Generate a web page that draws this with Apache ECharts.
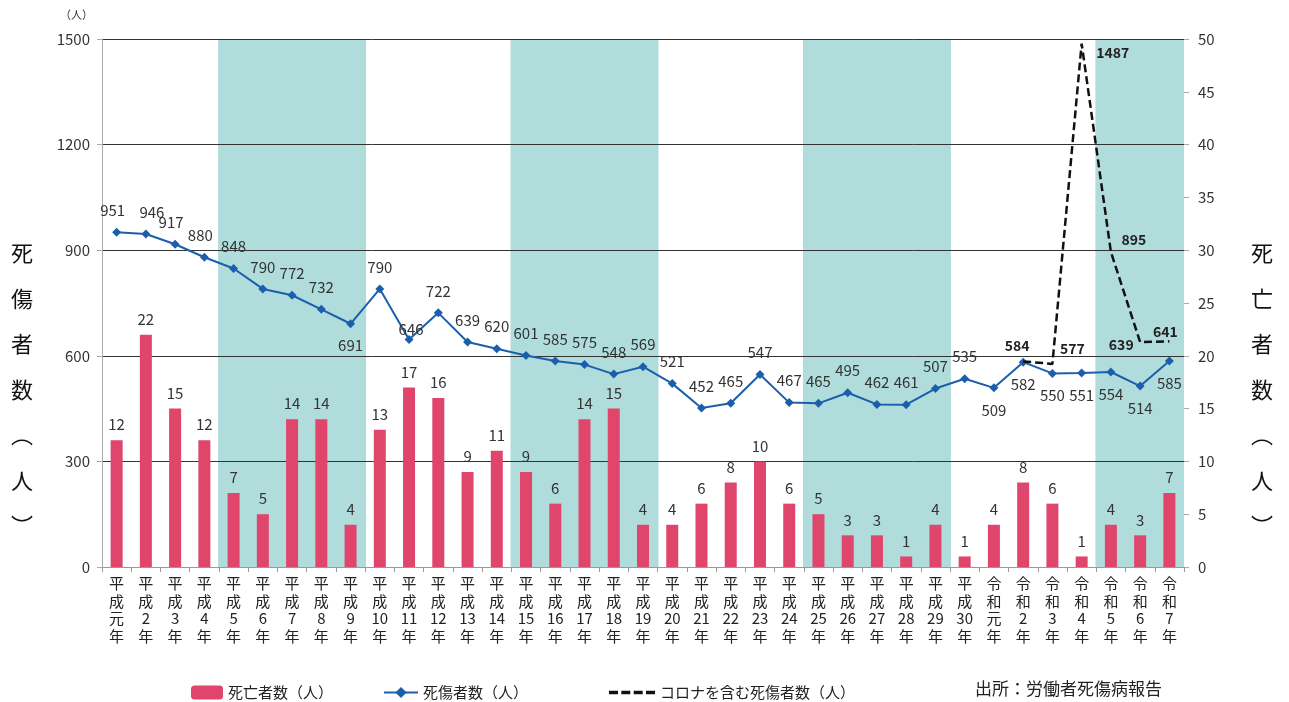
<!DOCTYPE html>
<html>
<head>
<meta charset="utf-8">
<title>死傷者数・死亡者数の推移</title>
<script src="https://cdn.jsdelivr.net/npm/echarts@6/dist/echarts.min.js"></script>
<style>
  html, body { margin: 0; padding: 0; background: #fff; }
  #chart1 { width: 1289px; height: 702px; }
</style>
</head>
<body>
<div id="chart1"></div>
<script type="text/javascript">
// 年（横軸）
var years = ['平成元年', '平成2年', '平成3年', '平成4年', '平成5年', '平成6年', '平成7年', '平成8年', '平成9年', '平成10年',
  '平成11年', '平成12年', '平成13年', '平成14年', '平成15年', '平成16年', '平成17年', '平成18年', '平成19年', '平成20年',
  '平成21年', '平成22年', '平成23年', '平成24年', '平成25年', '平成26年', '平成27年', '平成28年', '平成29年', '平成30年',
  '令和元年', '令和2年', '令和3年', '令和4年', '令和5年', '令和6年', '令和7年'];

// 死亡者数（人）
var deaths = [12, 22, 15, 12, 7, 5, 14, 14, 4, 13,
  17, 16, 9, 11, 9, 6, 14, 15, 4, 4,
  6, 8, 10, 6, 5, 3, 3, 1, 4, 1,
  4, 8, 6, 1, 4, 3, 7];

// 死傷者数（人）
var casualties = [951, 946, 917, 880, 848, 790, 772, 732, 691, 790,
  646, 722, 639, 620, 601, 585, 575, 548, 569, 521,
  452, 465, 547, 467, 465, 495, 462, 461, 507, 535,
  509, 582, 550, 551, 554, 514, 585];

// コロナを含む死傷者数（人）: 令和2年〜
var coronaYears = ['令和2年', '令和3年', '令和4年', '令和5年', '令和6年', '令和7年'];
var coronaValues = [584, 577, 1487, 895, 639, 641];

// 網掛けの年
var shadedYears = ['平成5年', '平成6年', '平成7年', '平成8年', '平成9年',
  '平成15年', '平成16年', '平成17年', '平成18年', '平成19年',
  '平成25年', '平成26年', '平成27年', '平成28年', '平成29年',
  '令和5年', '令和6年', '令和7年'];

var leftTicks = [0, 1500, 300];
var rightTicks = [0, 50, 5];

var FONT = '"Noto Sans CJK JP", sans-serif';
var SHADE = '#b1dcdc';

// ラベルを下に出す点
var belowIdx = [8, 30, 31, 32, 33, 34, 35, 36];
// ラベルを少しずらす点
var shiftIdx = { 0: [-4, 0], 1: [6, 0], 2: [-4, 0], 3: [-4, 0], 10: [2, 12] };

var lineData = casualties.map(function (v, i) {
  var lab = null;
  if (belowIdx.indexOf(i) >= 0) lab = { position: 'bottom', distance: 10 };
  if (shiftIdx[i]) { lab = lab || {}; lab.offset = shiftIdx[i]; }
  return lab ? { value: v, label: lab } : v;
});

var coronaPos = ['top', 'top', 'right', 'right', 'left', 'top'];
var coronaOff = [[-6, -2], [20, -2], [8, 9], [4, -12], [0, 3], [-4, 4]];
var coronaData = years.map(function (y) {
  var k = coronaYears.indexOf(y);
  if (k < 0) return '-';
  return { value: coronaValues[k], label: { position: coronaPos[k], offset: coronaOff[k] } };
});

var shadeData = years.map(function (y) {
  return shadedYears.indexOf(y) >= 0 ? leftTicks[1] : '-';
});

function stackLabel(s) {
  // 数字はまとめて1行、それ以外は1文字ずつ縦に
  return s.match(/[0-9]+|./g).join('\n');
}

function legendAt(name, left, icon, w) {
  var item = { name: name };
  if (icon) { item.icon = icon; item.itemStyle = { color: '#111' }; }
  return {
    data: [item],
    left: left,
    top: 680,
    itemWidth: w,
    itemHeight: 14,
    textStyle: { fontSize: 15, color: '#222', fontFamily: FONT }
  };
}

var myChart1 = echarts.init(document.getElementById('chart1'));

myChart1.setOption({
  animation: false,
  backgroundColor: '#fff',
  textStyle: { fontFamily: FONT },
  grid: { left: 102, right: 105, top: 39, bottom: 135 },
  legend: [
    legendAt('死亡者数（人）', 186, null, 32),
    legendAt('死傷者数（人）', 378, null, 34),
    legendAt('コロナを含む死傷者数（人）', 604,
      'path://M0,0h8v3h-8z M11,0h8v3h-8z M22,0h8v3h-8z M33,0h8v3h-8z', 46)
  ],
  xAxis: [{
    type: 'category',
    data: years,
    axisLine: { lineStyle: { color: '#999' } },
    axisTick: { show: true, interval: 0, length: 5, lineStyle: { color: '#999' } },
    axisLabel: {
      interval: 0,
      color: '#222',
      fontSize: 15,
      lineHeight: 17.5,
      margin: 8,
      verticalAlign: 'top',
      formatter: stackLabel
    }
  }, {
    type: 'category',
    data: years,
    show: false
  }],
  yAxis: [{
    type: 'value',
    min: leftTicks[0],
    max: leftTicks[1],
    interval: leftTicks[2],
    axisLine: { show: true, lineStyle: { color: '#aaa' } },
    axisTick: { show: true, length: 5, lineStyle: { color: '#aaa' } },
    axisLabel: { color: '#333', fontSize: 15, margin: 12, formatter: function (v) { return String(v); } },
    splitLine: { lineStyle: { color: '#333', width: 1 } }
  }, {
    type: 'value',
    min: rightTicks[0],
    max: rightTicks[1],
    interval: rightTicks[2],
    axisLine: { show: false },
    axisTick: { show: true, length: 5, lineStyle: { color: '#aaa' } },
    axisLabel: { color: '#333', fontSize: 15, margin: 14 },
    splitLine: { show: false }
  }],
  series: [{
    name: 'shade',
    type: 'bar',
    xAxisIndex: 1,
    yAxisIndex: 0,
    data: shadeData,
    barWidth: 31,
    silent: true,
    z: -1,
    itemStyle: { color: SHADE }
  }, {
    name: '死亡者数（人）',
    type: 'bar',
    yAxisIndex: 1,
    data: deaths,
    barWidth: 12,
    itemStyle: { color: '#e0466c' },
    label: { show: true, position: 'top', distance: 8, color: '#333', fontSize: 15 }
  }, {
    name: '死傷者数（人）',
    type: 'line',
    yAxisIndex: 0,
    data: lineData,
    symbol: 'diamond',
    symbolSize: 9,
    lineStyle: { color: '#1b5fac', width: 2 },
    itemStyle: { color: '#1b5fac' },
    label: { show: true, position: 'top', distance: 10, color: '#333', fontSize: 15 },
    z: 4
  }, {
    name: 'コロナを含む死傷者数（人）',
    type: 'line',
    yAxisIndex: 0,
    data: coronaData,
    symbol: 'circle',
    symbolSize: 1,
    lineStyle: { color: '#111', width: 2.5, type: [8, 4] },
    itemStyle: { color: 'rgba(0,0,0,0)' },
    label: { show: true, color: '#222', fontSize: 14, fontWeight: 'bold', distance: 6 },
    z: 5
  }],
  graphic: [{
    type: 'text',
    left: 60,
    top: 9,
    style: { text: '（人）', font: '11px ' + FONT, fill: '#333' }
  }, {
    type: 'text',
    left: 11,
    top: 230,
    style: { text: '死\n傷\n者\n数\n︵\n人\n︶', font: '22px ' + FONT, lineHeight: 45.5, fill: '#111' }
  }, {
    type: 'text',
    left: 1251,
    top: 230,
    style: { text: '死\n亡\n者\n数\n︵\n人\n︶', font: '22px ' + FONT, lineHeight: 45.5, fill: '#111' }
  }, {
    type: 'text',
    left: 975,
    top: 680,
    style: { text: '出所：労働者死傷病報告', font: '17px ' + FONT, fill: '#222' }
  }]
});
</script>
</body>
</html>
